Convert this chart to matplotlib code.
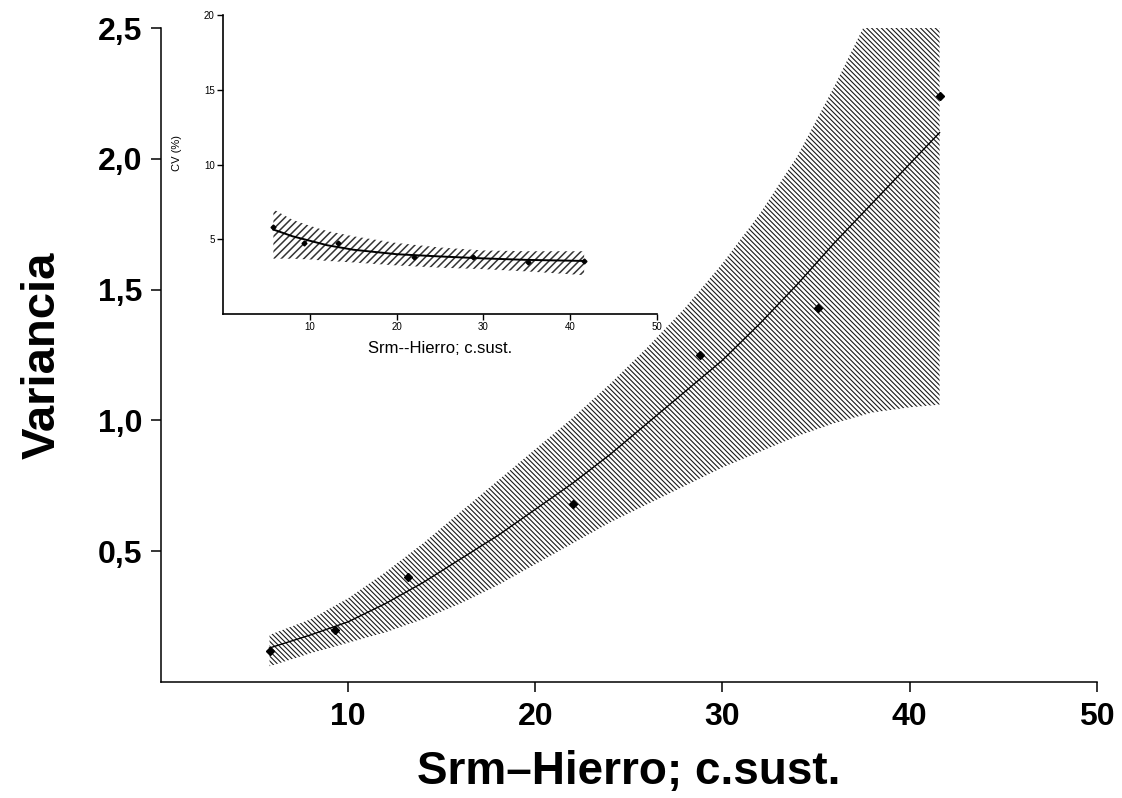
import numpy as np
import matplotlib
matplotlib.use("Agg")
import matplotlib.pyplot as plt
from matplotlib.collections import LineCollection

plt.rcParams['font.family'] = ['Liberation Sans', 'DejaVu Sans']

# observed points: variance vs. substance concentration
x_obs = [5.8, 9.3, 13.2, 22.0, 28.8, 35.1, 41.6]
var_obs = [0.12, 0.20, 0.40, 0.68, 1.25, 1.43, 2.24]

# fitted variance curve and its band
x_fit = [5.8, 8, 10, 12, 14, 16, 18, 20, 22, 24, 26, 28, 30, 32, 34, 36, 38, 40, 41.6]
var_fit = [0.13, 0.18, 0.23, 0.30, 0.38, 0.47, 0.56, 0.66, 0.76, 0.87, 0.99, 1.11,
           1.23, 1.37, 1.52, 1.68, 1.83, 1.98, 2.10]
var_hi = [0.18, 0.24, 0.32, 0.42, 0.53, 0.65, 0.77, 0.89, 1.01, 1.14, 1.28, 1.43,
          1.60, 1.79, 2.01, 2.28, 2.57, 2.90, 3.20]
var_lo = [0.06, 0.11, 0.15, 0.19, 0.24, 0.30, 0.37, 0.45, 0.53, 0.61, 0.68, 0.75,
          0.82, 0.88, 0.94, 0.99, 1.03, 1.05, 1.06]

# coefficient of variation (inset)
cv_obs = [5.8, 4.75, 4.75, 3.8, 3.8, 3.5, 3.55]
x_cv = [5.8, 8, 10, 12, 15, 20, 25, 30, 35, 41.6]
cv_fit = [5.65, 5.2, 4.9, 4.6, 4.3, 4.0, 3.85, 3.72, 3.62, 3.55]
cv_hi = [7.0, 6.3, 5.9, 5.55, 5.2, 4.75, 4.45, 4.25, 4.2, 4.2]
cv_lo = [3.7, 3.7, 3.65, 3.55, 3.45, 3.25, 3.1, 3.0, 2.85, 2.6]

main_yticks = [0.5, 1.0, 1.5, 2.0, 2.5]
main_ylabels = ['0,5', '1,0', '1,5', '2,0', '2,5']
xticks = [10, 20, 30, 40, 50]
inset_yticks = [5, 10, 15, 20]

fig = plt.figure(figsize=(11.22, 7.98), dpi=100)


def hatch_band(ax, x, lo, hi, step_px, slash, lw, color):
    # band outline used only as a clip path for the hatch lines
    poly = ax.fill_between(x, lo, hi, facecolor='none', edgecolor='none', linewidth=0)
    w, h = fig.get_size_inches()
    step = step_px / fig.dpi
    segs = []
    for c in np.arange(-h, w + h, step):
        if slash == '/':
            segs.append([(c, 0), (c + h, h)])
        else:
            segs.append([(c, h), (c + h, 0)])
    lc = LineCollection(segs, colors=color, linewidths=lw, transform=fig.dpi_scale_trans)
    ax.add_collection(lc, autolim=False)
    lc.set_clip_path(poly.get_paths()[0], ax.transData)


# main panel
ax = fig.add_axes([0.1435, 0.1454, 0.834, 0.8195])
hatch_band(ax, x_fit, var_lo, var_hi, 4.9, '\\', 0.8, '#1a1a1a')
ax.plot(x_fit, var_fit, color='black', lw=1.0)
ax.plot(x_obs, var_obs, 'D', color='black', ms=4.5)
ax.set_xlim(0, 50)
ax.set_ylim(0, 2.5)
ax.set_xticks(xticks)
ax.set_xticklabels([str(t) for t in xticks])
ax.set_yticks(main_yticks)
ax.set_yticklabels(main_ylabels)
for s in ['top', 'right']:
    ax.spines[s].set_visible(False)
for s in ['left', 'bottom']:
    ax.spines[s].set_linewidth(1.1)
ax.tick_params(axis='both', direction='out', length=7.5, width=1.1, labelsize=23)
ax.tick_params(axis='x', pad=7)
ax.tick_params(axis='y', pad=6)
for lab in ax.get_xticklabels() + ax.get_yticklabels():
    lab.set_fontweight('bold')
ax.set_xlabel('Srm–Hierro; c.sust.', fontsize=33, fontweight='bold', labelpad=13)
ax.set_ylabel('Variancia', fontsize=34, fontweight='bold', labelpad=24)

# inset: CV (%)
axi = fig.add_axes([0.1988, 0.6065, 0.3868, 0.3747])
axi.set_facecolor('white')
hatch_band(axi, x_cv, cv_lo, cv_hi, 7.5, '/', 1.1, '#333333')
axi.plot(x_cv, cv_fit, color='black', lw=1.4)
axi.plot(x_obs, cv_obs, 'D', color='black', ms=2.5)
axi.set_xlim(0, 50)
axi.set_ylim(0, 20)
axi.set_xticks(xticks)
axi.set_yticks(inset_yticks)
for s in ['top', 'right']:
    axi.spines[s].set_visible(False)
for s in ['left', 'bottom']:
    axi.spines[s].set_linewidth(1.2)
axi.tick_params(axis='both', direction='out', length=4, width=1.0, labelsize=7, pad=2)
axi.set_xlabel('Srm--Hierro; c.sust.', fontsize=12, labelpad=6)
axi.set_ylabel('CV (%)', fontsize=8)
axi.yaxis.set_label_coords(-0.095, 0.54)

fig.savefig('out.png', dpi=100)
